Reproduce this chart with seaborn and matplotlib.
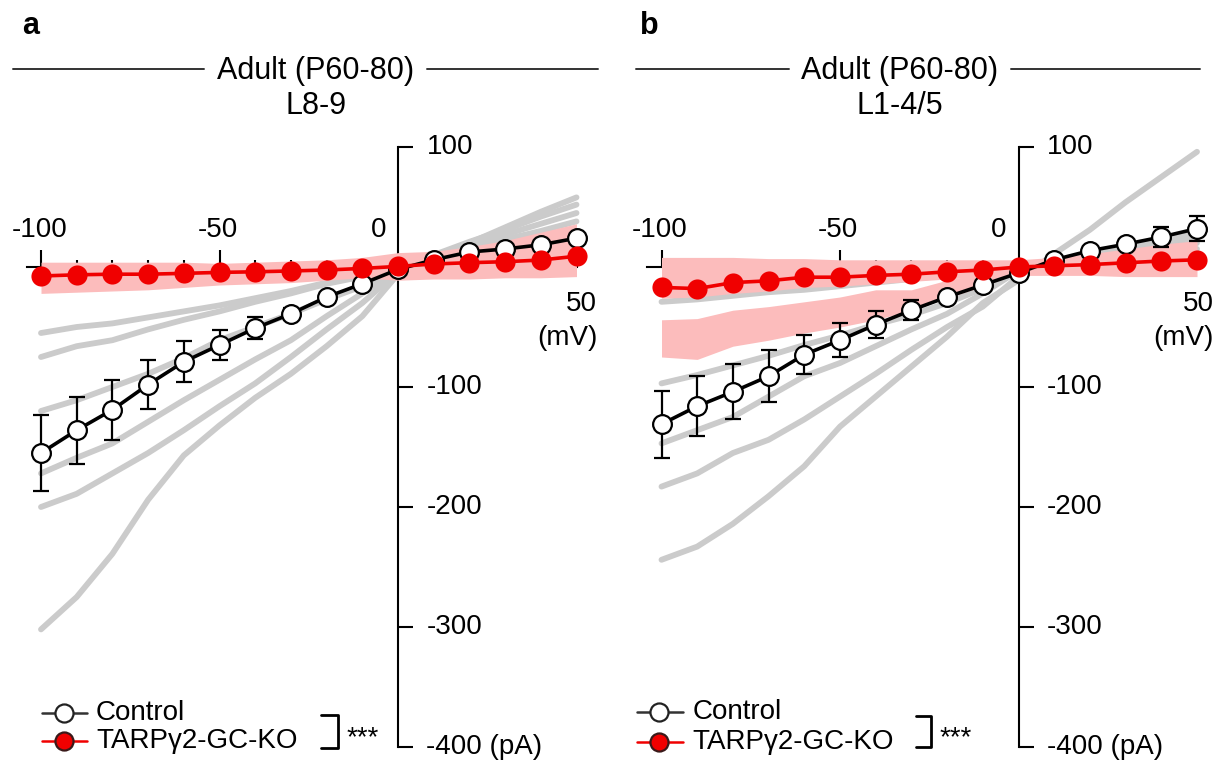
import numpy as np
import pandas as pd
import matplotlib.pyplot as plt
from matplotlib.lines import Line2D
import seaborn as sns

sns.set_style('white')
plt.rcParams['font.family'] = ['Liberation Sans', 'DejaVu Sans']
plt.rcParams['text.color'] = 'black'

# voltage steps (mV)
mv = [-100, -90, -80, -70, -60, -50, -40, -30, -20, -10, 0, 10, 20, 30, 40, 50]

# ---- panel a : L8-9 ----
ctrl_a = [-155, -136, -119, -98, -79, -65, -51, -39, -25, -14, -2, 6, 12.5, 15, 18.5, 24]
ctrl_a_err = [32, 28, 25, 20.5, 17, 12.5, 9, 5, 3, 2.5, 2, 2, 2, 2, 2, 2]
ko_a = [-7.5, -6.5, -6, -6, -5.3, -4.5, -4, -3.3, -2.5, -1.2, 0.5, 2.5, 3.6, 4.4, 5.8, 9]
ko_a_hi = [4, 4, 4, 4, 4, 3, 4, 5, 6, 8, 12, 13, 17, 22, 29, 36]
ko_a_lo = [-22, -21, -20, -19, -17, -15, -14, -13, -11, -9, -11, -10, -10, -9, -9, -8]
cell_a1 = [-55, -50, -47, -42, -37, -32, -26, -20, -13, -6, 0, 4, 8, 12, 16, 20]
cell_a2 = [-75, -66, -61, -52, -44, -37, -29, -22, -14, -8, 0, 6, 12, 18, 24, 30]
cell_a3 = [-120, -111, -100, -89, -76, -61, -50, -39, -27, -16, -2, 8, 15, 23, 30, 38]
cell_a4 = [-172, -159, -147, -129, -111, -94, -77, -61, -41, -22, -3, 9, 18, 27, 36, 45]
cell_a5 = [-200, -189, -172, -155, -136, -116, -97, -75, -52, -30, -4, 10, 21, 31, 42, 52]
cell_a6 = [-302, -275, -239, -194, -157, -132, -109, -89, -66, -41, -6, 8, 20, 33, 46, 58]

# ---- panel b : L1-4/5 ----
ctrl_b = [-131, -116, -104, -91, -73, -61, -48, -36, -25, -15, -5, 6, 13.6, 19, 25, 32]
ctrl_b_err = [28, 25, 23, 21.5, 16.5, 14, 11, 8.5, 4, 3, 2, 2, 3, 3, 8.3, 10.4]
ko_b = [-17, -18, -13, -11.5, -8.5, -8.5, -7, -6, -4, -2.5, 0, 1, 2, 3.5, 5, 6]
ko_b_err = [5, 5, 2, 2, 2, 2, 2, 2, 2, 2, 2, 2, 2, 2, 2, 2]
ko_b_hi = [8, 8, 8, 7, 7, 6, 6, 6, 6, 6, 6, 8, 11, 15, 19, 22]
ko_b_lo = [-26, -25, -22, -20, -17, -16, -14, -12, -10, -8, -7, -7, -7, -8, -8, -8]
ko_b_cell_hi = [-44, -43, -36, -33, -29, -25, -19, -19, -11, -5, -1]
ko_b_cell_lo = [-75, -77, -66, -61, -55, -50, -44, -36, -26, -16, -5]
cell_b1 = [-29, -27, -24, -21, -19, -16, -13, -10, -7, -4, 0, 3, 6, 9, 12, 15]
cell_b2 = [-97, -90, -82, -74, -65, -57, -48, -40, -30, -18, -2, 4, 9, 13, 17, 20]
cell_b3 = [-147, -136, -125, -108, -91, -80, -66, -52, -39, -22, -3, 5, 10, 15, 20, 25]
cell_b4 = [-183, -172, -155, -144, -127, -108, -89, -69, -50, -33, -8, 4, 10, 16, 22, 28]
cell_b5 = [-244, -233, -214, -191, -166, -133, -108, -83, -58, -30, -11, 11, 31, 54, 75, 96]

y_ticks = [100, -100, -200, -300, -400]
y_labels = ['100', '-100', '-200', '-300', '-400 (pA)']

GREY = '#cbcbcb'
PINK = '#fcbcbc'
RED = '#f00000'


def cells_frame(traces):
    rows = []
    for i, tr in enumerate(traces):
        for v, c in zip(mv, tr):
            rows.append({'cell': i, 'mV': v, 'pA': c})
    return pd.DataFrame(rows)


fig = plt.figure(figsize=(12.2, 7.67), dpi=100)
W, H = 1220, 767
XSCALE = 3.57   # px per mV
YSCALE = 1.2    # px per pA
XLIM = (-111, 56)
YLIM = (-415, 110)


def make_axes(x0_px):
    left = x0_px + XLIM[0] * XSCALE
    width = (XLIM[1] - XLIM[0]) * XSCALE
    bottom = 267 + (-YLIM[0]) * YSCALE
    height = (YLIM[1] - YLIM[0]) * YSCALE
    ax = fig.add_axes([left / W, 1 - bottom / H, width / W, height / H])
    ax.set_xlim(*XLIM)
    ax.set_ylim(*YLIM)
    ax.patch.set_alpha(0)
    return ax


def draw_panel(ax, cells, ctrl, ctrl_err, ko, ko_err, ko_hi, ko_lo, extra_band=None):
    sns.lineplot(data=cells_frame(cells), x='mV', y='pA', units='cell', estimator=None,
                 color=GREY, lw=4.2, ax=ax, legend=False, zorder=3)
    ax.fill_between(mv, ko_lo, ko_hi, color=PINK, lw=0, zorder=3.2)
    if extra_band is not None:
        xs = mv[:len(extra_band[0])]
        ax.fill_between(xs, extra_band[1], extra_band[0], color=PINK, lw=0, zorder=3.2)
    ax.errorbar(mv, ctrl, yerr=ctrl_err, fmt='o-', color='black', lw=2.6,
                ms=13.5, mfc='white', mec='black', mew=1.6,
                capsize=5.5, elinewidth=1.6, capthick=1.6, zorder=4)
    ax.errorbar(mv, ko, yerr=ko_err, fmt='o-', color=RED, lw=2.6,
                ms=14.5, mfc=RED, mec=RED, mew=0,
                capsize=5.5, elinewidth=1.6, capthick=1.6, zorder=5)

    # axes through the origin
    for s in ['top', 'right']:
        ax.spines[s].set_visible(False)
    ax.spines['left'].set_position(('data', 0))
    ax.spines['bottom'].set_position(('data', 0))
    ax.spines['left'].set_bounds(-400, 100)
    ax.spines['bottom'].set_bounds(-104, 50)
    for s in ['left', 'bottom']:
        ax.spines[s].set_linewidth(1.5)
        ax.spines[s].set_color('black')
    ax.set_yticks(y_ticks)
    ax.set_xticks([-100, -50])
    ax.set_xticks([-90, -80, -70, -60, -40, -30, -20, -10], minor=True)
    ax.tick_params(axis='y', left=True, direction='in', length=11, width=1.5,
                   color='black', labelleft=False)
    ax.tick_params(axis='x', which='major', bottom=True, direction='in', length=12,
                   width=1.5, color='black', labelbottom=False)
    ax.tick_params(axis='x', which='minor', bottom=True, direction='in', length=5,
                   width=1.5, color='black')
    ax.set_xlabel('')
    ax.set_ylabel('')

    for v, lab in zip(y_ticks, y_labels):
        ax.annotate(lab, xy=(0, v), xytext=(20.5, 0), textcoords='offset points',
                    ha='left', va='center', fontsize=20)
    ax.text(-100.5, 31, '-100', ha='center', va='center', fontsize=20)
    ax.text(-50.5, 31, '-50', ha='center', va='center', fontsize=20)
    ax.text(-5.5, 31, '0', ha='center', va='center', fontsize=20)


# ---- panel a ----
ax_a = make_axes(398)
draw_panel(ax_a, [cell_a1, cell_a2, cell_a3, cell_a4, cell_a5, cell_a6],
           ctrl_a, ctrl_a_err, ko_a, None, ko_a_hi, ko_a_lo)
ax_a.text(55.8, -31, '50', ha='right', va='center', fontsize=20)
ax_a.text(55.8, -59, '(mV)', ha='right', va='center', fontsize=20)

# ---- panel b ----
ax_b = make_axes(1018.5)
draw_panel(ax_b, [cell_b1, cell_b2, cell_b3, cell_b4, cell_b5],
           ctrl_b, ctrl_b_err, ko_b, ko_b_err, ko_b_hi, ko_b_lo,
           extra_band=(ko_b_cell_hi, ko_b_cell_lo))
ax_b.text(54.6, -31, '50', ha='right', va='center', fontsize=20)
ax_b.text(54.6, -59, '(mV)', ha='right', va='center', fontsize=20)


# legends and significance brackets
def legend_rows(ax, x0, x1, xm, xt, y1, y2):
    ax.plot([x0, x1], [y1, y1], color='#333333', lw=1.8, clip_on=False, zorder=6)
    ax.plot([xm], [y1], 'o', ms=13, mfc='white', mec='#222222', mew=1.6, clip_on=False, zorder=7)
    ax.text(xt, y1, 'Control', ha='left', va='center', fontsize=20)
    ax.plot([x0, x1], [y2, y2], color=RED, lw=1.8, clip_on=False, zorder=6)
    ax.plot([xm], [y2], 'o', ms=13, mfc=RED, mec='#3a1a1a', mew=1.6, clip_on=False, zorder=7)
    ax.text(xt, y2, 'TARPγ2-GC-KO', ha='left', va='center', fontsize=20)


def bracket(ax, xv, xa, ytop, ybot):
    ax.plot([xa, xv, xv, xa], [ytop, ytop, ybot, ybot], color='black', lw=2, clip_on=False)
    ax.text(xv + 2.5, (ytop + ybot) / 2 - 6, '***', ha='left', va='center', fontsize=20)


legend_rows(ax_a, -99.8, -87.1, -93.6, -84.6, -371.5, -395)
bracket(ax_a, -16.8, -21.6, -373, -401)
legend_rows(ax_b, -106.9, -94.1, -100.7, -91.4, -371, -396)
bracket(ax_b, -24.5, -28.6, -374, -400)

# headers
for cx, sub, l0, l1, r0, r1 in [(316, 'L8-9', 13, 204, 427, 598),
                                (900, 'L1-4/5', 636, 789, 1011, 1200)]:
    fig.text(cx / W, 1 - 71 / H, 'Adult (P60-80)', ha='center', va='center', fontsize=22)
    fig.text(cx / W, 1 - 106 / H, sub, ha='center', va='center', fontsize=22)
    fig.add_artist(Line2D([l0 / W, l1 / W], [1 - 69 / H, 1 - 69 / H], color='#333333', lw=1.4))
    fig.add_artist(Line2D([r0 / W, r1 / W], [1 - 69 / H, 1 - 69 / H], color='#333333', lw=1.4))
fig.text(22 / W, 1 - 26 / H, 'a', ha='left', va='center', fontsize=22, fontweight='bold')
fig.text(640 / W, 1 - 26 / H, 'b', ha='left', va='center', fontsize=22, fontweight='bold')

fig.savefig('out.png', dpi=100)
